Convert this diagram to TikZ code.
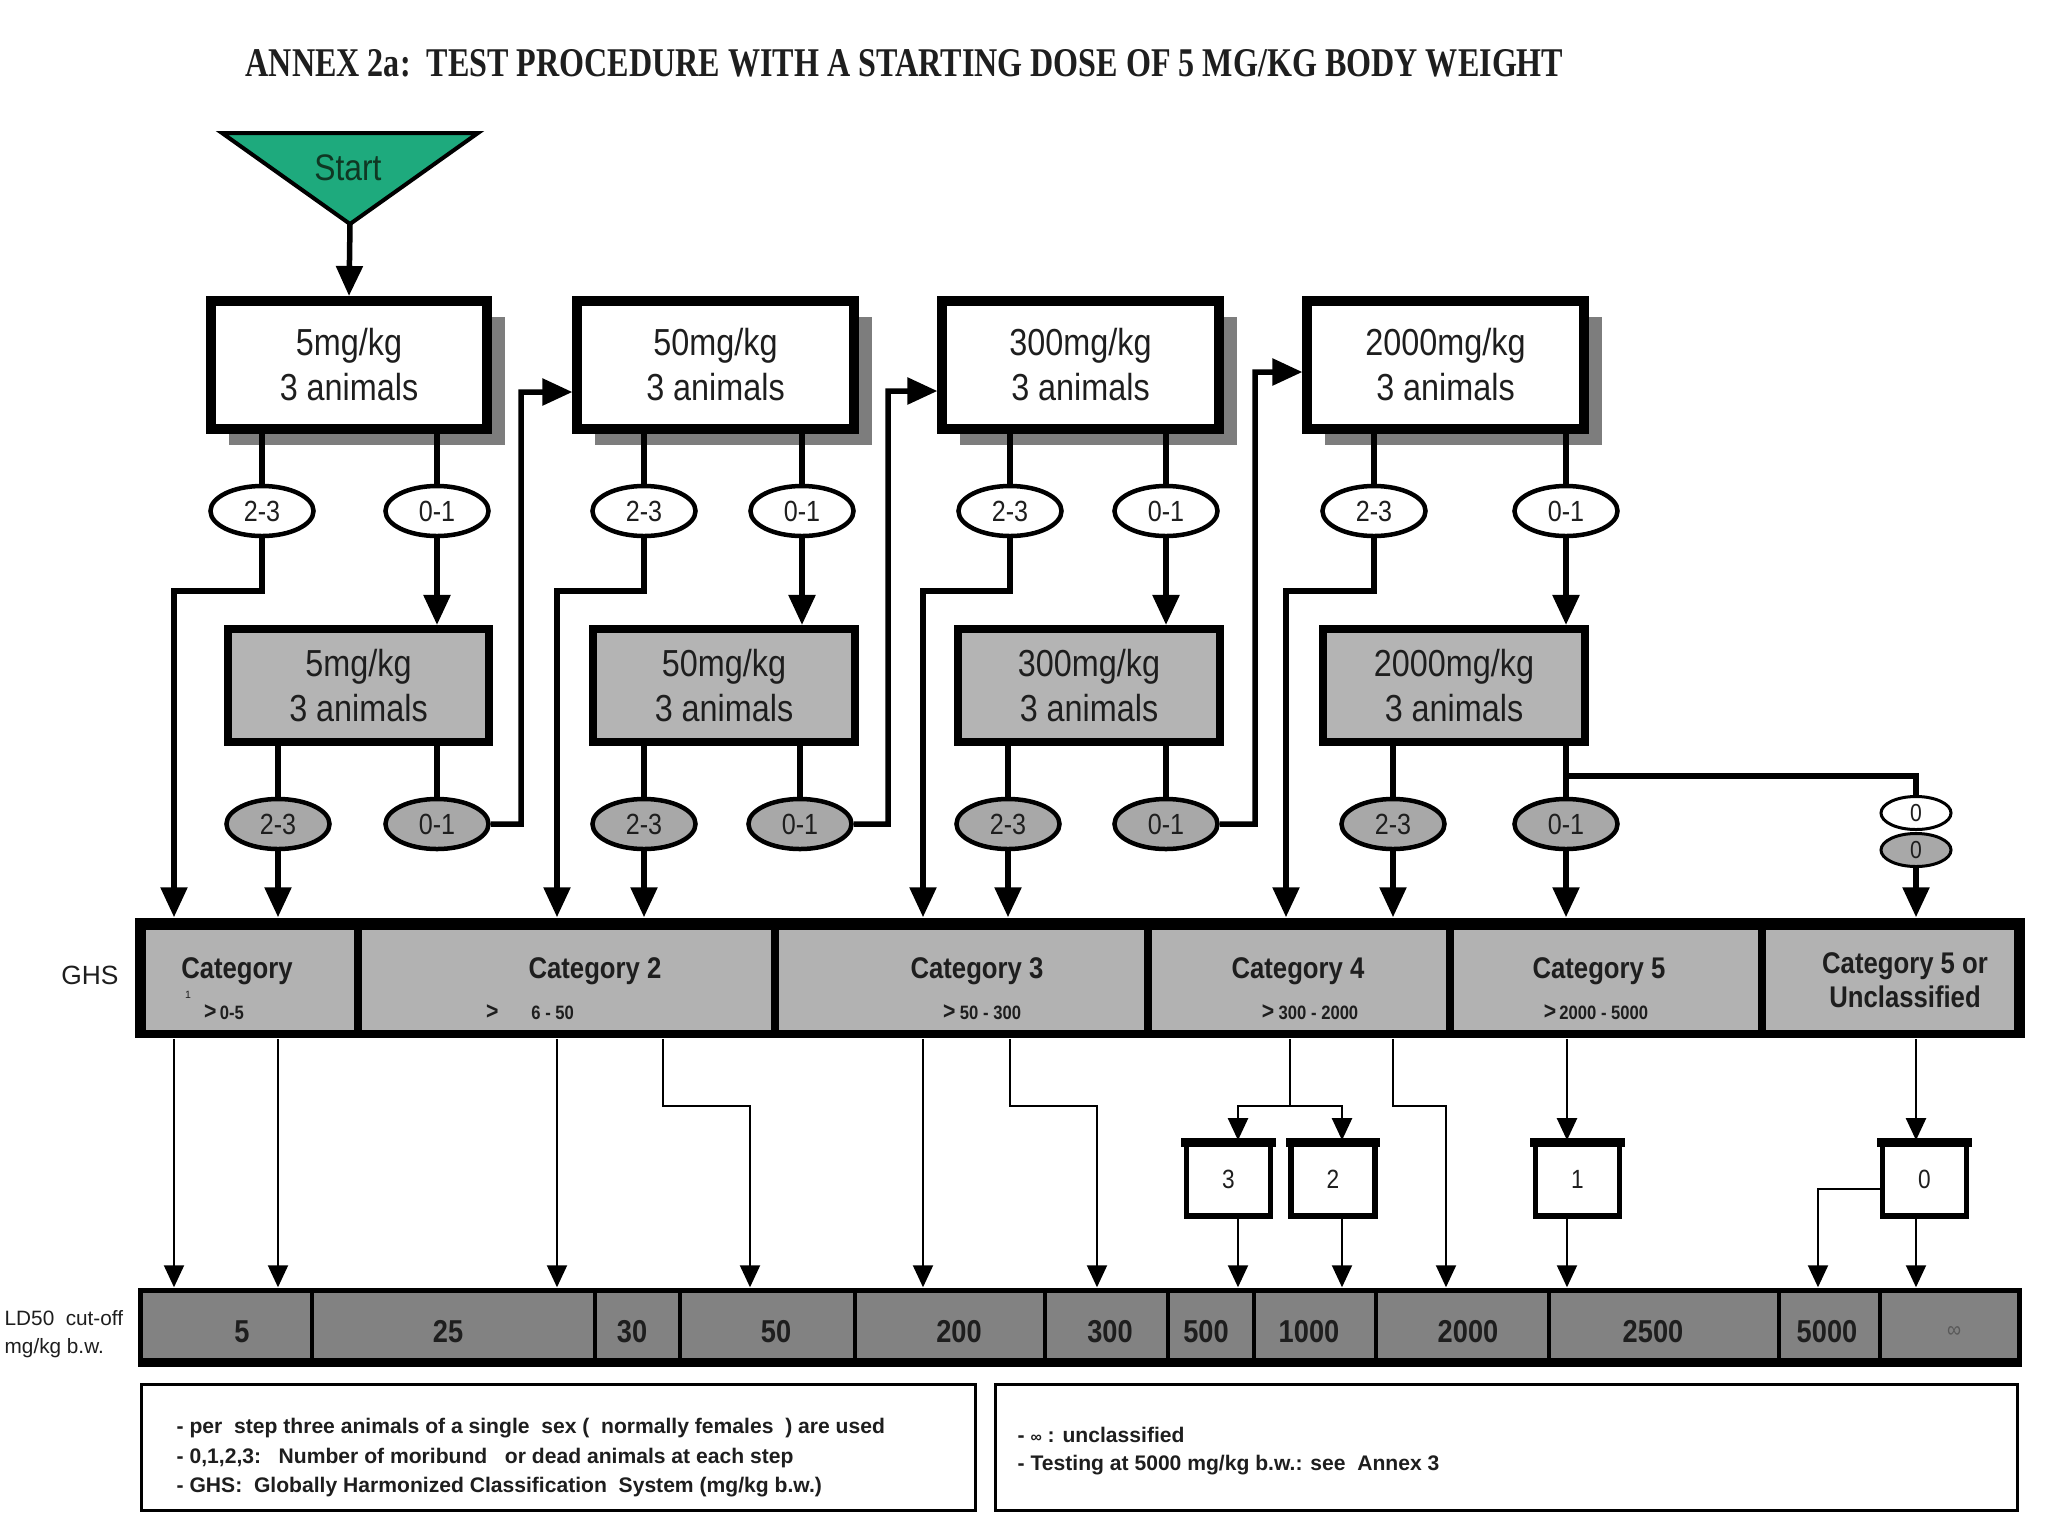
\documentclass[tikz,border=0pt]{standalone}
\usepackage{fontspec}
\usepackage{graphicx}
\setmainfont{Liberation Sans}
\newfontfamily\nar[FakeStretch=0.86]{Liberation Sans}
\newfontfamily\ttlfont{Liberation Serif}
\usetikzlibrary{arrows.meta,shadows,shapes.geometric,calc}
\definecolor{stgreen}{RGB}{30,170,125}
\definecolor{shgray}{RGB}{125,125,125}
\definecolor{boxgray}{RGB}{180,180,180}
\definecolor{ellgray}{RGB}{168,168,168}
\definecolor{catgray}{RGB}{178,178,178}
\definecolor{ldgray}{RGB}{130,130,130}
\definecolor{txt}{RGB}{30,30,30}
\definecolor{sttxt}{RGB}{15,55,35}
\begin{document}
\begin{tikzpicture}[x=0.01cm,y=-0.01cm,
  topbox/.style={draw, line width=0.1cm, fill=white, minimum width=2.76cm, minimum height=1.28cm, inner sep=0pt, align=center, text=txt, font=\nar\fontsize{10.7}{12.8}\selectfont, drop shadow={shadow xshift=0.18cm, shadow yshift=-0.16cm, opacity=1, fill=shgray}},
  graybox/.style={draw, line width=0.08cm, fill=boxgray, minimum width=2.61cm, minimum height=1.13cm, inner sep=0pt, align=center, text=txt, font=\nar\fontsize{10.7}{12.8}\selectfont},
  wellip/.style={ellipse, draw, line width=0.045cm, fill=white, minimum width=1.03cm, minimum height=0.5cm, inner sep=0pt, text=txt, font=\nar\fontsize{8.3}{9}\selectfont},
  gellip/.style={wellip, fill=ellgray},
  zellip/.style={ellipse, draw, line width=0.03cm, minimum width=0.7cm, minimum height=0.33cm, inner sep=0pt, font=\nar\fontsize{7}{8}\selectfont, text=txt},
  thk/.style={line width=0.055cm},
  thkarr/.style={thk, -{Triangle[width=0.26cm,length=0.3cm]}},
  thn/.style={line width=0.02cm},
  thnarr/.style={thn, -{Triangle[width=0.2cm,length=0.22cm]}},
  cattxt/.style={font=\nar\bfseries\fontsize{8.5}{9.7}\selectfont, text=txt, inner sep=0pt, align=center},
  rngtxt/.style={font=\nar\bfseries\fontsize{5.5}{6}\selectfont, text=txt, inner sep=0pt},
  ldtxt/.style={font=\nar\bfseries\fontsize{9}{10}\selectfont, text=txt, inner sep=0pt},
  numbox/.style={draw, line width=0.055cm, fill=white, minimum width=0.84cm, minimum height=0.73cm, inner sep=0pt, font=\nar\fontsize{7.5}{8}\selectfont, text=txt},
  legtxt/.style={font=\bfseries\fontsize{6}{7}\selectfont, text=txt, inner sep=0pt, anchor=west},
  legbox/.style={draw, line width=0.03cm, minimum height=1.26cm, inner sep=0pt}
]
\useasboundingbox (0,0) rectangle (2048,1536);
\fill[white] (0,0) rectangle (2048,1536);

% title
\node[anchor=base west, inner sep=0pt, text=txt] (title) at (245,76)
  {\resizebox{13.17cm}{0.27cm}{\ttlfont\bfseries ANNEX 2a:\ \ TEST PROCEDURE WITH A STARTING DOSE OF 5 MG/KG BODY WEIGHT}};

% start
\filldraw[fill=stgreen, draw=black, line width=0.04cm, line join=miter] (222,133) -- (478,133) -- (350,224) -- cycle;
\coordinate (apex) at (350,224);
\node[font=\nar\fontsize{10.5}{12}\selectfont, text=sttxt, inner sep=0pt] (start) at (348,168) {Start};

% top boxes
\node[topbox] (B1) at (349,365) {5mg/kg\\3 animals};
\node[topbox] (B2) at (715.5,365) {50mg/kg\\3 animals};
\node[topbox] (B3) at (1080.5,365) {300mg/kg\\3 animals};
\node[topbox] (B4) at (1445.5,365) {2000mg/kg\\3 animals};

% gray boxes
\node[graybox] (G1) at (358.5,685.5) {5mg/kg\\3 animals};
\node[graybox] (G2) at (724,685.5) {50mg/kg\\3 animals};
\node[graybox] (G3) at (1089,685.5) {300mg/kg\\3 animals};
\node[graybox] (G4) at (1454,685.5) {2000mg/kg\\3 animals};

% white ellipses
\node[wellip] (w1a) at (262,511) {2-3};
\node[wellip] (w1b) at (437,511) {0-1};
\node[wellip] (w2a) at (644,511) {2-3};
\node[wellip] (w2b) at (802,511) {0-1};
\node[wellip] (w3a) at (1010,511) {2-3};
\node[wellip] (w3b) at (1166,511) {0-1};
\node[wellip] (w4a) at (1374,511) {2-3};
\node[wellip] (w4b) at (1566,511) {0-1};

% gray ellipses
\node[gellip] (g1a) at (278,824) {2-3};
\node[gellip] (g1b) at (437,824) {0-1};
\node[gellip] (g2a) at (644,824) {2-3};
\node[gellip] (g2b) at (800,824) {0-1};
\node[gellip] (g3a) at (1008,824) {2-3};
\node[gellip] (g3b) at (1166,824) {0-1};
\node[gellip] (g4a) at (1393,824) {2-3};
\node[gellip] (g4b) at (1566,824) {0-1};

% zero ellipses
\node[zellip, fill=white] (z1) at (1916,813) {0};
\node[zellip, fill=ellgray] (z2) at (1916,850) {0};

% category bar
\node[fill=black, minimum width=18.88cm, minimum height=1.2cm, inner sep=0pt] (catbar) at (1080,978) {};
\foreach \a/\b in {146/354, 362/771, 779/1144, 1152/1446, 1454/1758, 1766/2014}
  \fill[catgray] (\a,930) rectangle (\b,1030);
\node[cattxt] (c1) at (237,971) {Category};
\node[font=\fontsize{3}{3}\selectfont, text=txt, inner sep=0pt] (c1m) at (188,995) {1};
\node[rngtxt] (r1) at (224,1012) {{\fontsize{7}{7}\selectfont >}\,0-5};
\node[cattxt] (c2) at (595,971) {Category 2};
\node[rngtxt] (r2) at (530,1012) {{\fontsize{7}{7}\selectfont >}\hspace{0.33cm}6 - 50};
\node[cattxt] (c3) at (977,971) {Category 3};
\node[rngtxt] (r3) at (982,1012) {{\fontsize{7}{7}\selectfont >}\ 50 - 300};
\node[cattxt] (c4) at (1298,971) {Category 4};
\node[rngtxt] (r4) at (1310,1012) {{\fontsize{7}{7}\selectfont >}\ 300 - 2000};
\node[cattxt] (c5) at (1599,971) {Category 5};
\node[rngtxt] (r5) at (1596,1012) {{\fontsize{7}{7}\selectfont >}\,2000 - 5000};
\node[cattxt] (c6) at (1905,980) {Category 5 or\\Unclassified};
\node[font=\fontsize{7.5}{8}\selectfont, text=txt, inner sep=0pt] (ghs) at (90,975) {GHS};

% LD50 bar
\node[fill=black, minimum width=18.82cm, minimum height=0.79cm, inner sep=0pt] (ld) at (1080,1327.5) {};
\foreach \a/\b in {143/310, 314/593, 597/678, 682/853, 857/1043, 1047/1166, 1170/1252, 1256/1374, 1378/1547, 1551/1777, 1781/1878, 1882/2017}
  \fill[ldgray] (\a,1293) rectangle (\b,1358);
\foreach \x/\t [count=\i] in {242/5, 448/25, 632/30, 776/50, 959/200, 1110/300, 1206/500, 1309/1000, 1468/2000, 1653/2500, 1827/5000}
  \node[ldtxt] (ldt\i) at (\x,1332) {\t};
\node[font=\nar\fontsize{6.5}{6.5}\selectfont, text=black!65, inner sep=0pt] (ldinf) at (1954,1332) {∞};
\node[anchor=west, align=left, font=\fontsize{5.9}{8}\selectfont, text=txt, inner sep=0pt] (ldl) at (4,1334) {LD50\ \ cut-off\\mg/kg b.w.};

% number boxes
\node[numbox] (n3) at (1228.5,1179.5) {3};
\node[numbox] (n2) at (1333,1179.5) {2};
\node[numbox] (n1) at (1577.5,1179.5) {1};
\node[numbox] (n0) at (1924.5,1179.5) {0};
\foreach \n in {n3,n2,n1,n0}
  \fill ($(\n.north west)+(-2.5,-2.5)$) rectangle ($(\n.north east)+(2.5,7)$);

% legend
\node[legbox, minimum width=8.34cm] (leg1) at (558.5,1447.5) {};
\node[legbox, minimum width=10.22cm] (leg2) at (1506.5,1447.5) {};
\node[legtxt] (l1) at (176,1428) {- per\ \ step three animals of a single\ \ sex ( \ normally females \ ) are used};
\node[legtxt] (l2) at (176,1458) {- 0,1,2,3:\ \ \ Number of moribund \ \ or dead animals at each step};
\node[legtxt] (l3) at (176,1487) {- GHS:\ \ Globally Harmonized Classification\ \ System (mg/kg b.w.)};
\node[legtxt] (l4) at (1017,1435) {- {\fontsize{4.5}{4.5}\selectfont ∞} : unclassified};
\node[legtxt] (l5) at (1017,1465) {- Testing at 5000 mg/kg b.w.: see\ \ Annex 3};

% ---- connectors (thick) ----
\draw[thkarr] (apex) -- (B1.north);
\foreach \b/\e in {B1/w1a, B1/w1b, B2/w2a, B2/w2b, B3/w3a, B3/w3b, B4/w4a, B4/w4b,
                   G1/g1a, G1/g1b, G2/g2a, G2/g2b, G3/g3a, G3/g3b, G4/g4a, G4/g4b}
  \draw[thk] (\e |- \b.south) -- (\e.north);
\draw[thkarr] (w1b.south) -- (w1b |- G1.north);
\draw[thkarr] (w2b.south) -- (w2b |- G2.north);
\draw[thkarr] (w3b.south) -- (w3b |- G3.north);
\draw[thkarr] (w4b.south) -- (w4b |- G4.north);

\draw[thkarr] (w1a.south) |- (174,591) -- (174,0 |- catbar.north);
\draw[thkarr] (w2a.south) |- (557,591) -- (557,0 |- catbar.north);
\draw[thkarr] (w3a.south) |- (923,591) -- (923,0 |- catbar.north);
\draw[thkarr] (w4a.south) |- (1286,591) -- (1286,0 |- catbar.north);

\draw[thkarr] (g1b.east) -| (521,392) -- ([yshift=-0.27cm]B2.west);
\draw[thkarr] (g2b.east) -| (888,391) -- ([yshift=-0.26cm]B3.west);
\draw[thkarr] (g3b.east) -| (1255,372) -- ([yshift=-0.07cm]B4.west);

\foreach \e in {g1a, g2a, g3a, g4a, g4b}
  \draw[thkarr] (\e.south) -- (\e |- catbar.north);

\coordinate (br) at (1566,776);
\draw[thk] (br) -| (z1.north);
\draw[thkarr] (z2.south) -- (z2 |- catbar.north);

% ---- connectors (thin) ----
\foreach \x in {174, 278, 557, 923}
  \draw[thnarr] (\x,0 |- catbar.south) -- (\x,0 |- ld.north);
\draw[thnarr] (663,0 |- catbar.south) |- (750,1106) -- (750,0 |- ld.north);
\draw[thnarr] (1010,0 |- catbar.south) |- (1097,1106) -- (1097,0 |- ld.north);
\draw[thnarr] (1393,0 |- catbar.south) |- (1446,1106) -- (1446,0 |- ld.north);
\draw[thn] (1290,0 |- catbar.south) -- (1290,1106);
\coordinate (sp) at (1290,1106);
\draw[thnarr] (sp) -| ([xshift=0.095cm]n3.north);
\draw[thnarr] (sp) -| ([xshift=0.09cm]n2.north);
\draw[thnarr] ([xshift=-0.105cm]n1.north |- catbar.south) -- ([xshift=-0.105cm]n1.north);
\draw[thnarr] ([xshift=-0.085cm]n0.north |- catbar.south) -- ([xshift=-0.085cm]n0.north);
\draw[thnarr] ([xshift=0.095cm]n3.south) -- ([xshift=0.095cm]n3.south |- ld.north);
\draw[thnarr] ([xshift=0.09cm]n2.south) -- ([xshift=0.09cm]n2.south |- ld.north);
\draw[thnarr] ([xshift=-0.105cm]n1.south) -- ([xshift=-0.105cm]n1.south |- ld.north);
\draw[thnarr] ([xshift=-0.085cm]n0.south) -- ([xshift=-0.085cm]n0.south |- ld.north);
\draw[thnarr] ([yshift=-0.095cm]n0.west) -| (1818,0 |- ld.north);
\end{tikzpicture}
\end{document}
